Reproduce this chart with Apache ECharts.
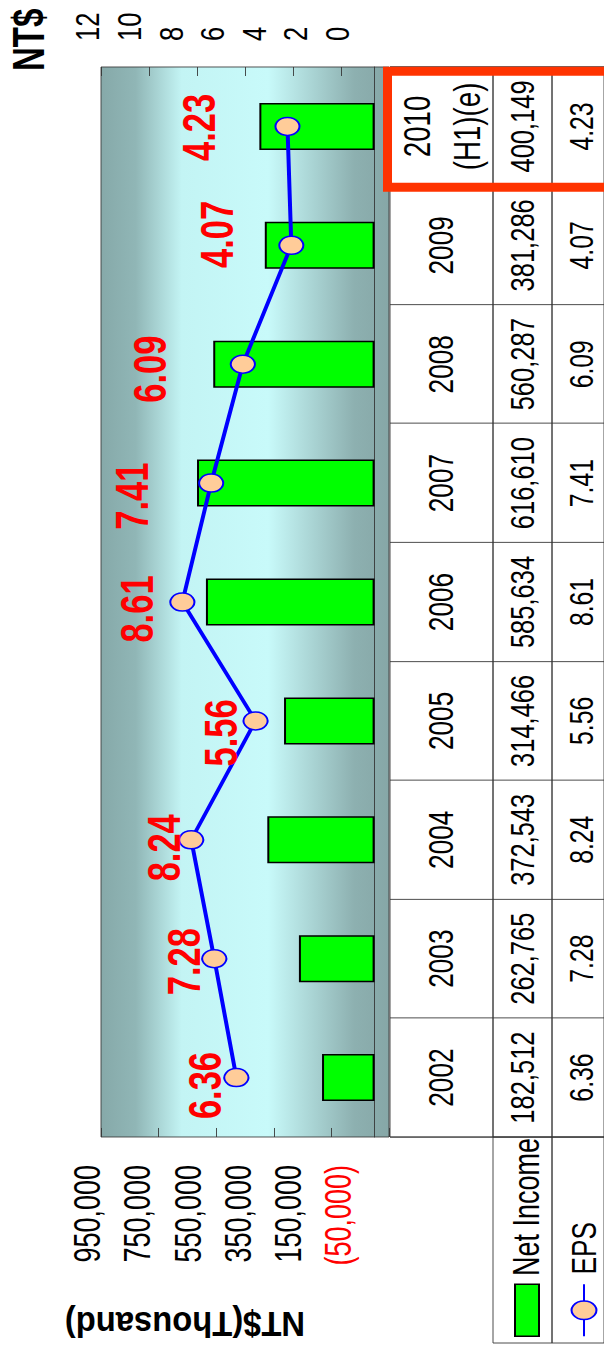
<!DOCTYPE html>
<html><head><meta charset="utf-8">
<script src="https://cdn.jsdelivr.net/npm/echarts@6/dist/echarts.min.js"></script>
<style>
html,body{margin:0;padding:0;width:604px;height:1358px;overflow:hidden;background:#fff;}
#chart{position:absolute;left:0;top:0;width:1811px;height:604px;transform-origin:0 0;transform:translateY(1358px) rotate(-90deg) scaleX(0.75);}
</style></head><body><div id="chart"></div>
<script>
// ---- data ----
const years = ['2002','2003','2004','2005','2006','2007','2008','2009','2010'];
const tableYearLabels = ['2002','2003','2004','2005','2006','2007','2008','2009','2010\n(H1)(e)'];
const netIncome = [182512, 262765, 372543, 314466, 585634, 616610, 560287, 381286, 400149];
const eps = [6.36, 7.28, 8.24, 5.56, 8.61, 7.41, 6.09, 4.07, 4.23];
const incomeAxisLabels = ['(50,000)','150,000','350,000','550,000','750,000','950,000'];
const epsAxisLabels = ['0','2','4','6','8','10','12'];
// label placement (style only)
const epsLabelRise = [31, 30, 27, 34, 45, 79, 93, 74, 88];
const epsLabelShift = [-8, -3, -8, -12, -7, -13, -5, 11, -1];

const K = 0.75;
const px = X => X / K;
const FONT = '"Liberation Sans", Arial, Helvetica, sans-serif';
const fmt = v => v.toLocaleString('en-US');

const chart = echarts.init(document.getElementById('chart'), null, {renderer: 'svg'});

const cellGrid = (l, t, w, h) => ({left: px(l), top: t, width: px(w), height: h, show: true, borderColor: '#333', borderWidth: 1, backgroundColor: 'transparent'});
const grids = [
  {left: px(221), top: 101, width: px(1070), height: 288, show: true, borderColor: '#3a3a3a', borderWidth: 1,
   backgroundColor: new echarts.graphic.LinearGradient(0, 0, 0, 1, [
     {offset: 0, color: '#86A9A9'}, {offset: 0.12, color: '#90B6B6'}, {offset: 0.28, color: '#C3F4F4'},
     {offset: 0.58, color: '#C8FAFA'}, {offset: 0.88, color: '#8DB0B0'}, {offset: 1, color: '#86A7A7'}])},
  {left: px(193) + 6, top: 87.5, width: 10, height: 251.5},
  {left: px(1317) - 16, top: 87.5, width: 10, height: 249.5},
  cellGrid(221, 390, 1070, 103),
  cellGrid(221, 493, 1070, 59),
  cellGrid(221, 552, 1070, 59),
  cellGrid(15, 493, 206, 59),
  cellGrid(15, 552, 206, 59)
];

const hiddenX = i => ({gridIndex: i, type: 'value', show: false});
const hiddenY = i => ({gridIndex: i, type: 'value', show: false});
const tableX = (i, h, fontSize, formatter) => ({
  gridIndex: i, type: 'category', data: years, position: 'top', offset: -h / 2,
  axisLine: {show: false}, axisTick: {show: false},
  axisLabel: {interval: 0, margin: 0, verticalAlign: 'middle', fontSize: fontSize, color: '#000', fontFamily: FONT,
    formatter: formatter,
    rich: {a: {fontSize: 37, lineHeight: 50, color: '#000', fontFamily: FONT}}},
  splitLine: {show: true, interval: 0, lineStyle: {color: '#333', width: 1}}
});

const option = {
  animation: false,
  backgroundColor: '#fff',
  grid: grids,
  legend: [
    {data: [{name: 'Net Income', icon: 'rect'}], left: px(21), top: 509, padding: 0, itemWidth: px(52), itemHeight: 24, selectedMode: false,
     textStyle: {fontSize: 36, lineHeight: 36, color: '#000', fontFamily: FONT, padding: [0, 0, 0, 6]}},
    {data: ['EPS'], left: px(21), top: 566, padding: 0, itemWidth: px(52), itemHeight: 31, selectedMode: false,
     textStyle: {fontSize: 35, lineHeight: 36, color: '#000', fontFamily: FONT, padding: [0, 0, 0, 8]}}
  ],
  xAxis: [
    {gridIndex: 0, type: 'category', data: years, boundaryGap: true,
     axisLine: {show: true, onZero: true, onZeroAxisIndex: 0, lineStyle: {color: '#333', width: 1}},
     axisTick: {show: false}, axisLabel: {show: false}, splitLine: {show: false}},
    hiddenX(1), hiddenX(2),
    tableX(3, 103, 35, (v, i) => tableYearLabels[i].indexOf('\n') >= 0 ? tableYearLabels[i].split('\n').map(s => '{a|' + s + '}').join('\n') : tableYearLabels[i]),
    tableX(4, 59, 34, (v, i) => fmt(netIncome[i])),
    tableX(5, 59, 33, (v, i) => eps[i].toFixed(2)),
    hiddenX(6), hiddenX(7)
  ],
  yAxis: [
    {gridIndex: 0, type: 'value', min: -50000, max: 950000, interval: 200000, position: 'left',
     axisLine: {show: false}, axisTick: {show: true, inside: true, length: 12, lineStyle: {color: '#333'}},
     axisLabel: {show: false}, splitLine: {show: false}},
    {gridIndex: 0, type: 'value', min: 0, max: 12, interval: 2, position: 'right',
     axisLine: {show: false}, axisTick: {show: true, inside: true, length: 12, lineStyle: {color: '#333'}},
     axisLabel: {show: false}, splitLine: {show: false}},
    {gridIndex: 1, type: 'value', min: -50000, max: 950000, interval: 200000, position: 'left',
     axisLine: {show: false}, axisTick: {show: false}, splitLine: {show: false},
     axisLabel: {margin: 6, fontSize: 36, fontFamily: FONT, color: v => v < 0 ? '#FF0000' : '#000',
       formatter: v => incomeAxisLabels[Math.round((v + 50000) / 200000)]}},
    {gridIndex: 2, type: 'value', min: 0, max: 12, interval: 2, position: 'right',
     axisLine: {show: false}, axisTick: {show: false}, splitLine: {show: false},
     axisLabel: {margin: 6, fontSize: 34, fontFamily: FONT, color: '#000',
       formatter: v => epsAxisLabels[Math.round(v / 2)]}},
    hiddenY(3), hiddenY(4), hiddenY(5), hiddenY(6), hiddenY(7)
  ],
  series: [
    {name: 'Net Income', type: 'bar', xAxisIndex: 0, yAxisIndex: 0, data: netIncome, barWidth: px(47),
     itemStyle: {color: '#00FF00', borderColor: '#000', borderWidth: 2}, z: 2},
    {name: 'EPS', type: 'line', xAxisIndex: 0, yAxisIndex: 1,
     data: eps.map((v, i) => ({value: v, label: {offset: [px(epsLabelShift[i]), -epsLabelRise[i]]}})),
     symbol: 'circle', symbolSize: 24,
     lineStyle: {color: '#0000FF', width: 4},
     itemStyle: {color: '#FFCC99', borderColor: '#0000FF', borderWidth: 2},
     label: {show: true, position: ['50%', '50%'], align: 'center', verticalAlign: 'middle',
       color: '#FF0000', fontSize: 46, fontWeight: 'bold', fontFamily: FONT, textBorderWidth: 0,
       formatter: p => Number(p.value).toFixed(2)},
     z: 3}
  ]
};
chart.setOption(option);

// annotation box around the last (estimated) column, located via the category scale
const cLast = chart.convertToPixel({xAxisIndex: 0}, years[years.length - 1]) * K;
const cPrev = chart.convertToPixel({xAxisIndex: 0}, years[years.length - 2]) * K;
const bw = cLast - cPrev;
const boxL = cLast - bw / 2 - 1, boxR = cLast + bw / 2 - 4;

chart.setOption({
  graphic: [
    {type: 'text', id: 'ytitle', x: px(33), y: 185, rotation: Math.PI / 2, scaleX: 0.91, scaleY: 1 / K,
     style: {text: 'NT$(Thousand)', font: 'bold 36px ' + FONT, fill: '#000', align: 'center', verticalAlign: 'middle'}},
    {type: 'text', id: 'ntd', x: px(1287), y: 29,
     style: {text: 'NT$', font: 'bold 44px ' + FONT, fill: '#000', align: 'left', verticalAlign: 'middle'}},
    {type: 'rect', id: 'hl', x: 0, y: 0, scaleX: 1 / K, z: 100,
     shape: {x: boxL, y: 387.5, width: boxR - boxL, height: 260},
     style: {fill: 'none', stroke: '#FF3300', lineWidth: 9}}
  ]
});
</script></body></html>
